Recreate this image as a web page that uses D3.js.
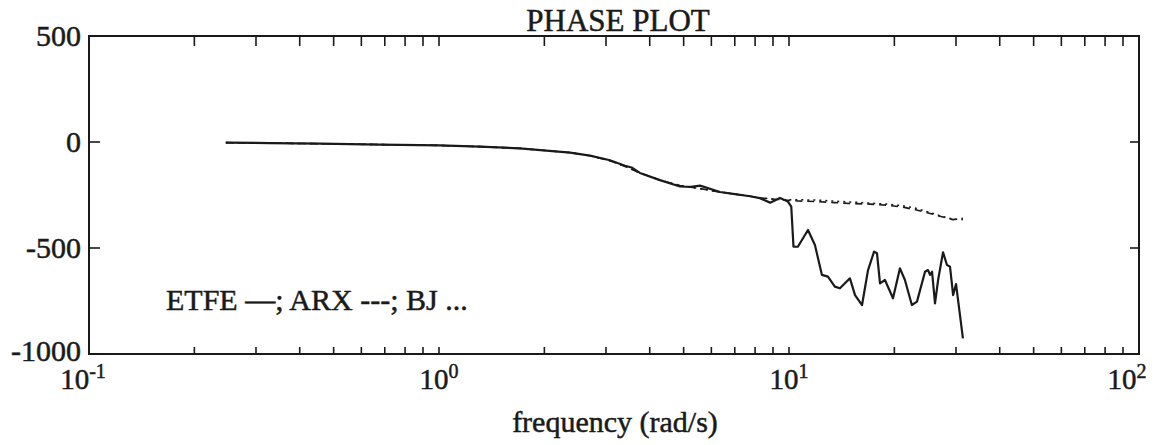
<!DOCTYPE html>
<html><head><meta charset="utf-8">
<script src="https://cdn.jsdelivr.net/npm/d3@7"></script>
<style>
html,body{margin:0;padding:0;background:#fff;}
text{font-family:"Liberation Serif","Times New Roman",serif;fill:#1a1a1a;stroke:#1a1a1a;stroke-width:0.5px;}
</style></head>
<body>
<svg id="chart" width="1165" height="445"></svg>
<script>
// ---- data ----
const titleText = "PHASE PLOT";
const xLabel = "frequency (rad/s)";
const legendText = "ETFE \u2014; ARX ---; BJ ...";
const yTicks = [500, 0, -500, -1000];
const xDecades = [-1, 0, 1, 2];

const etfeFreq = [0.246,0.329,0.457,0.678,1.0,1.31,1.70,2.37,2.70,3.08,3.25,3.40,3.55,3.75,4.28,4.88,5.25,5.57,6.35,7.01,7.74,8.26,8.83,9.42,9.93,10.15,10.3,10.6,11.33,11.86,12.42,12.92,13.52,13.98,14.93,15.44,16.17,16.82,17.50,17.84,18.20,18.80,19.82,20.75,21.44,22.44,23.21,24.47,24.95,25.29,25.63,26.13,26.67,27.55,28.27,28.84,29.44,30.01,31.4];
const etfePhase = [-3,-5,-8,-12,-16,-22,-30,-50,-64,-86,-100,-112,-120,-146,-180,-210,-212,-206,-236,-246,-256,-265,-286,-264,-281,-305,-494,-494,-415,-486,-627,-635,-682,-690,-643,-722,-769,-604,-517,-525,-667,-651,-737,-596,-651,-769,-753,-612,-604,-627,-612,-761,-651,-520,-580,-588,-722,-670,-926];

const modelFreq = [0.246,0.457,1.0,1.31,1.70,2.37,2.70,3.08,3.40,3.75,4.28,4.88,5.57,6.35,7.01,7.74,8.26,8.83,9.42,9.93,10.6,12.0,13.5,15.0,17.0,19.0,21.0,23.0,25.0,27.0,29.4,31.4];
const arxPhase = [-3,-8,-16,-22,-30,-50,-65,-88,-115,-146,-180,-205,-220,-236,-246,-256,-263,-268,-272,-275,-278,-281,-286,-290,-293,-298,-306,-320,-335,-350,-366,-360];
const bjPhase  = [-3,-8,-16,-22,-30,-50,-65,-88,-115,-146,-180,-205,-220,-236,-246,-256,-263,-268,-271,-273,-272,-274,-279,-283,-288,-293,-300,-312,-330,-348,-364,-366];

// ---- layout ----
const svg = d3.select("#chart");
const L = 89, R = 1139, T = 36, B = 354;
const x = d3.scaleLog().domain([0.1, 100]).range([L, R]);
const y = d3.scaleLinear().domain([-1000, 500]).range([B, T]);
const ink = "#1a1a1a";

// frame
svg.append("rect").attr("x", L).attr("y", T).attr("width", R - L).attr("height", B - T)
  .attr("fill", "none").attr("stroke", ink).attr("stroke-width", 2);

// x ticks (minor ticks 2..9 for each decade), inward on top & bottom
const minor = [];
for (let d = -1; d < 2; d++) for (let k = 2; k <= 9; k++) minor.push(k * Math.pow(10, d));
minor.push(1, 10);
const tickG = svg.append("g").attr("stroke", ink).attr("stroke-width", 1.6);
minor.forEach(f => {
  tickG.append("line").attr("x1", x(f)).attr("x2", x(f)).attr("y1", T).attr("y2", T + 10);
  tickG.append("line").attr("x1", x(f)).attr("x2", x(f)).attr("y1", B).attr("y2", B - 7);
});
// y ticks inward left & right
yTicks.forEach(v => {
  tickG.append("line").attr("x1", L).attr("x2", L + 11).attr("y1", y(v)).attr("y2", y(v));
  tickG.append("line").attr("x1", R).attr("x2", R - 9).attr("y1", y(v)).attr("y2", y(v));
});

// y tick labels
svg.append("g").selectAll("text").data(yTicks).join("text")
  .attr("x", 81).attr("y", d => y(d) + (d === -1000 ? 7 : 10)).attr("text-anchor", "end")
  .attr("font-size", 30).text(d => d);

// x tick labels 10^n
const xl = svg.append("g").selectAll("text").data(xDecades).join("text")
  .attr("x", d => x(Math.pow(10, d)) + (d === 2 ? -12 : (d === -1 ? -6 : 0)))
  .attr("y", 389).attr("text-anchor", "middle").attr("font-size", 29);
xl.append("tspan").text("10");
xl.append("tspan").attr("dy", -11).attr("font-size", 20).text(d => d === -1 ? "-1" : d);

// title, axis label, legend
svg.append("text").attr("x", 618).attr("y", 31).attr("text-anchor", "middle")
  .attr("font-size", 31).text(titleText);
svg.append("text").attr("x", 615).attr("y", 432).attr("text-anchor", "middle")
  .attr("font-size", 30).text(xLabel);
svg.append("text").attr("x", 166).attr("y", 310).attr("font-size", 30).text(legendText);

// lines
const line = (fs) => d3.line().x((d, i) => x(fs[i])).y(d => y(d));
svg.append("path").datum(bjPhase).attr("d", line(modelFreq))
  .attr("fill", "none").attr("stroke", ink).attr("stroke-width", 1.5).attr("stroke-dasharray", "2,4");
svg.append("path").datum(arxPhase).attr("d", line(modelFreq))
  .attr("fill", "none").attr("stroke", ink).attr("stroke-width", 1.6).attr("stroke-dasharray", "7,5");
svg.append("path").datum(etfePhase).attr("d", line(etfeFreq))
  .attr("fill", "none").attr("stroke", ink).attr("stroke-width", 2.2).attr("stroke-linejoin", "round");
</script>
</body></html>
